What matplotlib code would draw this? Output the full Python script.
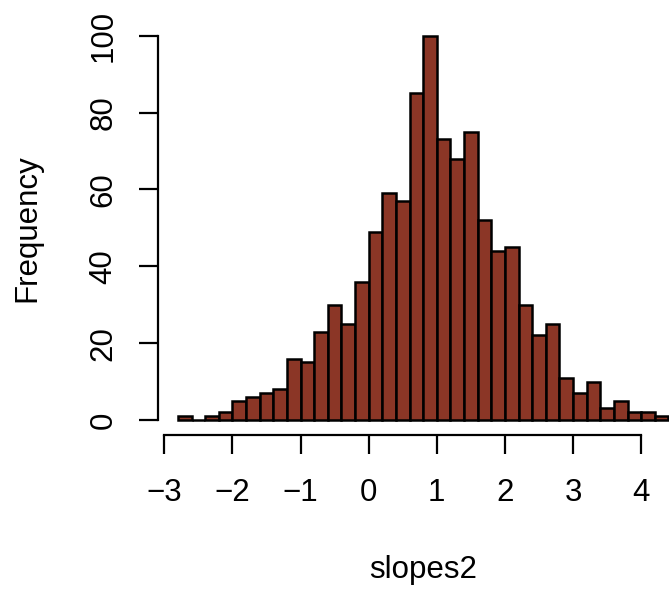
import numpy as np
import matplotlib
matplotlib.use("Agg")
import matplotlib.pyplot as plt

# Histogram of slopes2: bin edges (width 0.2) and counts per bin
bin_start = -2.8
bin_width = 0.2
counts = [1, 0, 1, 2, 5, 6, 7, 8, 16, 15, 23, 30, 25, 36, 49, 59, 57, 85,
          100, 73, 68, 75, 52, 44, 45, 30, 22, 25, 11, 7, 10, 3, 5, 2, 2, 1]
x_ticks = [-3, -2, -1, 0, 1, 2, 3, 4]
x_tick_labels = ["\u22123", "\u22122", "\u22121", "0", "1", "2", "3", "4"]
y_ticks = [0, 20, 40, 60, 80, 100]

edges = bin_start + bin_width * np.arange(len(counts) + 1)

plt.rcParams["font.family"] = ["Liberation Sans", "DejaVu Sans"]

W, H = 669, 590
fig = plt.figure(figsize=(W / 100, H / 100), dpi=100)
left_px, right_px, top_px, bottom_px = 158.3, 688.0, 20.3, 435.4
ax = fig.add_axes([left_px / W, 1 - bottom_px / H,
                   (right_px - left_px) / W, (bottom_px - top_px) / H])

ax.bar(edges[:-1], counts, width=bin_width, align="edge",
       color="#8B3626", edgecolor="black", linewidth=1.8)

span = edges[-1] - edges[0]
ax.set_xlim(edges[0] - 0.04 * span, edges[-1] + 0.04 * span)
ax.set_ylim(-4, 104)

for side in ("top", "right"):
    ax.spines[side].set_visible(False)
ax.spines["left"].set_bounds(0, 100)
ax.spines["bottom"].set_bounds(-3, 4)
for side in ("left", "bottom"):
    ax.spines[side].set_linewidth(1.6)

fs = 22.5
ax.set_xticks(x_ticks)
ax.set_xticklabels(x_tick_labels)
ax.set_yticks(y_ticks)
ax.set_yticklabels([str(v) for v in y_ticks], rotation=90, va="center")
ax.tick_params(axis="both", length=13.5, width=1.6, labelsize=fs)
ax.tick_params(axis="x", pad=17)
ax.tick_params(axis="y", pad=15)

fig.text(423 / W, 1 - 570 / H, "slopes2", ha="center", va="center", fontsize=fs)
fig.text(27 / W, 1 - 228 / H, "Frequency", ha="center", va="center",
         rotation=90, fontsize=fs)

fig.savefig("out.png", dpi=100)
